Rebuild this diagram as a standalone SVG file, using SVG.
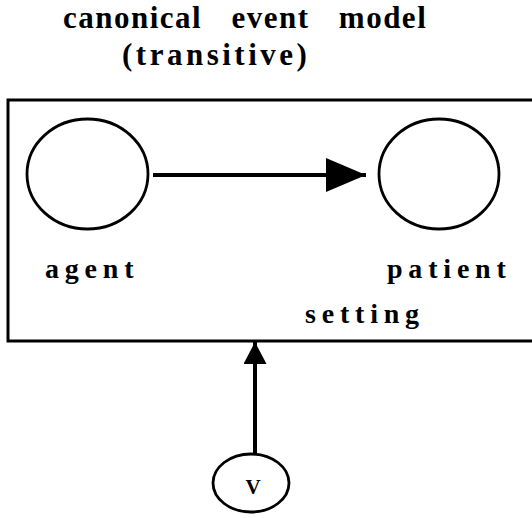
<svg xmlns="http://www.w3.org/2000/svg" width="532" height="518" viewBox="0 0 532 518">
<style>
text{font-family:"Liberation Serif","Times New Roman",serif;font-weight:bold;fill:#000}
.t{font-size:31px;letter-spacing:1.5px;word-spacing:20px}
.t2{font-size:31px;letter-spacing:3.5px}
.l{font-size:28px;letter-spacing:5.8px}
.n{fill:#fff;stroke:#000;stroke-width:2.8}
.c{stroke:#000;stroke-width:4;fill:none}
</style>
<defs>
<marker id="ah" markerUnits="userSpaceOnUse" markerWidth="42" markerHeight="36" refX="40" refY="17" orient="auto"><path d="M0,0 L40,17 L0,34 Z" fill="#000"/></marker>
<marker id="ah2" markerUnits="userSpaceOnUse" markerWidth="26" markerHeight="24" refX="22" refY="11.5" orient="auto"><path d="M0,0 L22,11.5 L0,23 Z" fill="#000"/></marker>
</defs>
<g id="title">
<text class="t" x="63" y="28">canonical event model</text>
<text class="t2" x="122" y="65">(transitive)</text>
</g>
<g id="setting">
<rect x="8" y="100" width="530" height="241" fill="none" stroke="#000" stroke-width="3"/>
<text class="l" x="305" y="323">setting</text>
</g>
<g id="agent">
<ellipse class="n" cx="87.5" cy="174" rx="60.5" ry="55"/>
<text class="l" x="45" y="278">agent</text>
</g>
<g id="patient">
<ellipse class="n" cx="439" cy="174" rx="60" ry="55"/>
<text class="l" x="387" y="278">patient</text>
</g>
<g id="v">
<ellipse class="n" cx="251" cy="483" rx="38" ry="29"/>
<text x="253" y="494" font-size="21" text-anchor="middle">V</text>
</g>
<g id="connectors">
<line class="c" x1="153" y1="175" x2="366" y2="175" marker-end="url(#ah)"/>
<line class="c" x1="255" y1="454" x2="255" y2="342" marker-end="url(#ah2)" stroke-width="3.5"/>
</g>
</svg>
